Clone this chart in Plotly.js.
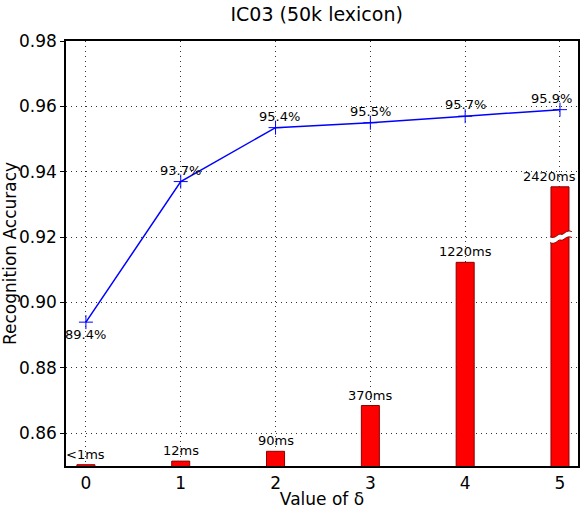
<!DOCTYPE html>
<html>
<head>
<meta charset="utf-8">
<script src="https://cdn.plot.ly/plotly-3.0.1.min.js"></script>
<style>
  body { margin: 0; background: #fff; }
  #plot { width: 581px; height: 509px; }
</style>
</head>
<body>
<div id="plot"></div>
<script>
// delta values
var delta = [0, 1, 2, 3, 4, 5];

// recognition accuracy (blue line)
var accuracy = [0.894, 0.937, 0.9535, 0.955, 0.957, 0.959];
var accLabels = ['89.4%', '93.7%', '95.4%', '95.5%', '95.7%', '95.9%'];

// time bars (drawn on the accuracy scale, last one is broken)
var timeBar = [0.8504, 0.8515, 0.8545, 0.8685, 0.9123, 0.9354];
var timeLabels = ['<1ms', '12ms', '90ms', '370ms', '1220ms', '2420ms'];
var breakAt = 0.9200;

var font = 'DejaVu Sans, sans-serif';
var barW = 0.19;

var bars = {
  x: delta,
  y: timeBar,
  type: 'bar',
  width: barW,
  marker: { color: '#ff0000', line: { color: '#8b0000', width: 1 } },
  hoverinfo: 'skip'
};

var line = {
  x: delta,
  y: accuracy,
  type: 'scatter',
  mode: 'lines+markers',
  line: { color: '#0000ff', width: 1.5 },
  marker: { symbol: 'cross-thin', size: 10, line: { color: '#0000ff', width: 1 } },
  cliponaxis: false
};

// text labels
var annotations = [];
delta.forEach(function (d, i) {
  var below = i === 0;
  annotations.push({
    x: d, y: accuracy[i], xref: 'x', yref: 'y',
    text: accLabels[i], showarrow: false,
    yanchor: below ? 'top' : 'bottom',
    yshift: below ? -3 : 2,
    xshift: i === 5 ? -8 : (i === 2 ? 4 : 0),
    font: { family: font, size: 13, color: '#000' }
  });
  annotations.push({
    x: d, y: timeBar[i], xref: 'x', yref: 'y',
    text: timeLabels[i], showarrow: false,
    yanchor: 'bottom', yshift: 1,
    xshift: i === 5 ? -10 : 0,
    font: { family: font, size: 13, color: '#000' }
  });
});

// break marks on the last bar
var bx = delta[5];
var x0 = bx - barW / 2 - 0.01, x1 = bx + barW / 2 + 0.03;
var xm = (x0 + x1) / 2;
var g = 0.0009;
function wave(y) {
  return 'M ' + x0 + ',' + (y - 0.0008) +
    ' C ' + (x0 + 0.06) + ',' + (y - 0.0016) + ' ' + (xm - 0.03) + ',' + (y + 0.0004) + ' ' + xm + ',' + y +
    ' S ' + (x1 - 0.06) + ',' + (y + 0.0016) + ' ' + x1 + ',' + (y + 0.0008);
}
var gapPath = wave(breakAt - g) +
  ' L ' + x1 + ',' + (breakAt + g + 0.0008) +
  ' C ' + (x1 - 0.06) + ',' + (breakAt + g + 0.0016) + ' ' + (xm + 0.03) + ',' + (breakAt + g - 0.0004) + ' ' + xm + ',' + (breakAt + g) +
  ' S ' + (x0 + 0.06) + ',' + (breakAt + g - 0.0016) + ' ' + x0 + ',' + (breakAt + g - 0.0008) + ' Z';

var layout = {
  width: 581,
  height: 509,
  margin: { l: 66, r: 3, t: 41, b: 43 },
  paper_bgcolor: '#fff',
  plot_bgcolor: '#fff',
  showlegend: false,
  title: {
    text: 'IC03 (50k lexicon)',
    font: { family: font, size: 19, color: '#000' },
    x: 0.545, xanchor: 'center', y: 0.985, yanchor: 'top'
  },
  xaxis: {
    range: [-0.21, 5.19],
    tickvals: delta,
    ticks: '', ticklabelstandoff: 1,
    tickfont: { family: font, size: 17, color: '#000' },
    showgrid: true, gridcolor: '#333', griddash: '1px,4px', gridwidth: 1,
    zeroline: false,
    showline: true, linecolor: '#000', linewidth: 1.5, mirror: true,
    title: { text: 'Value of δ', font: { family: font, size: 17, color: '#000' }, standoff: 2 }
  },
  yaxis: {
    range: [0.85, 0.98],
    tickvals: [0.86, 0.88, 0.90, 0.92, 0.94, 0.96, 0.98],
    ticktext: ['0.86', '0.88', '0.90', '0.92', '0.94', '0.96', '0.98'],
    ticks: 'outside', ticklen: 4, tickcolor: '#000',
    tickfont: { family: font, size: 17, color: '#000' },
    showgrid: true, gridcolor: '#333', griddash: '1px,4px', gridwidth: 1,
    zeroline: false,
    showline: true, linecolor: '#000', linewidth: 1.5, mirror: true,
    title: { text: 'Recognition Accuracy', font: { family: font, size: 17, color: '#000' }, standoff: 6 }
  },
  annotations: annotations,
  shapes: [
    { type: 'path', xref: 'x', yref: 'y', path: gapPath, fillcolor: '#fff', line: { width: 0 } },
    { type: 'path', xref: 'x', yref: 'y', path: wave(breakAt - g), line: { color: '#8b0000', width: 1 } },
    { type: 'path', xref: 'x', yref: 'y', path: wave(breakAt + g), line: { color: '#8b0000', width: 1 } }
  ]
};

Plotly.newPlot('plot', [bars, line], layout, { displayModeBar: false });
</script>
</body>
</html>
